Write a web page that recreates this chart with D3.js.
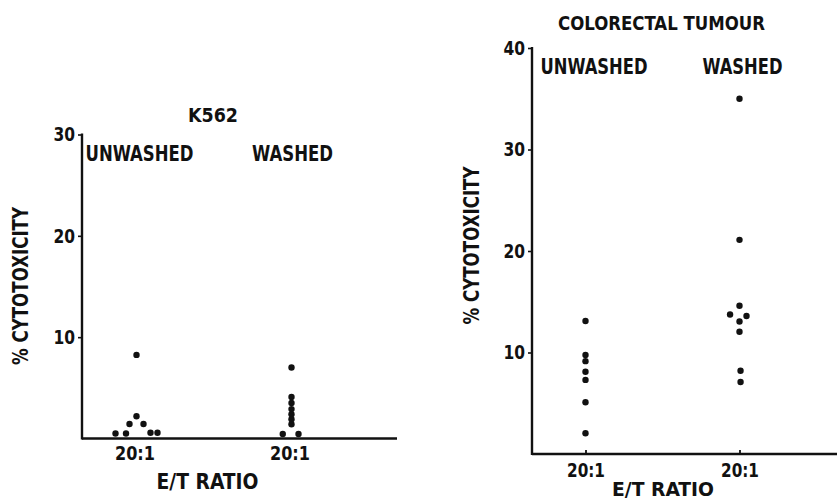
<!DOCTYPE html>
<html>
<head>
<meta charset="utf-8">
<script src="https://cdn.jsdelivr.net/npm/d3@7"></script>
<style>
    body { margin: 0; background: #fff; }
    svg text {
        font-family: "DejaVu Sans Condensed", "Liberation Sans", sans-serif;
        font-weight: bold;
        fill: #111;
    }
</style>
</head>
<body>
<svg id="chart" width="837" height="501"></svg>
<script>
// categories and tick labels
const categories = ["UNWASHED", "WASHED"];
const ratioTicks = ["20:1", "20:1"];

// K562 panel, % cytotoxicity per donor
const k562Unwashed = [8.25, 2.2, 1.43, 1.43, 0.5, 0.5, 0.57, 0.57];
const k562UnwashedSlot = [0, 0, -2, 2, -6, -3, 4, 6];
const k562Washed = [7.0, 4.1, 3.5, 2.9, 2.4, 1.9, 1.4, 0.45, 0.45];
const k562WashedSlot = [0, 0, 0, 0, 0, 0, 0, -2.5, 2];

// colorectal tumour panel
const crcUnwashed = [13.1, 9.75, 9.15, 8.1, 7.3, 5.1, 2.05];
const crcUnwashedSlot = [0, 0, 0, 0, 0, 0, 0];
const crcWashed = [35.0, 21.1, 14.6, 13.75, 13.6, 13.05, 12.05, 8.2, 7.1];
const crcWashedSlot = [0, 0, 0, -2.7, 2, 0, 0, 0.3, 0.3];

const svg = d3.select("#chart");

// squeeze text to the condensed width of the typeset original
function squeeze(sel, w) {
    sel.attr("textLength", w).attr("lengthAdjust", "spacingAndGlyphs");
}

function drawPanel(p) {
    const g = svg.append("g");

    const x = d3.scalePoint().domain(categories).range(p.catRange);
    const y = d3.scaleLinear().domain([0, p.yMax]).range([p.base, p.top]);
    const slot = d3.scaleLinear().domain([0, 1]).range([0, 3.5]);

    // axis lines
    g.append("line")
        .attr("x1", p.axisX).attr("x2", p.axisX)
        .attr("y1", y(p.yMax) - 1).attr("y2", p.base + 1)
        .attr("stroke", "#111").attr("stroke-width", 2.4);
    g.append("line")
        .attr("x1", p.axisX).attr("x2", p.xEnd)
        .attr("y1", p.base).attr("y2", p.base)
        .attr("stroke", "#111").attr("stroke-width", 2.4);

    // y ticks
    const yAxis = g.append("g")
        .attr("transform", `translate(${p.axisX},0)`)
        .call(d3.axisLeft(y).tickValues(p.yTicks).tickSize(4).tickPadding(3));
    yAxis.select(".domain").remove();
    yAxis.selectAll("line").attr("stroke", "#111").attr("stroke-width", 1.6);
    yAxis.selectAll("text")
        .style("font-size", "20px").attr("fill", "#111")
        .each(function () {
            squeeze(d3.select(this), this.getComputedTextLength() * 0.86);
        });

    // x ticks
    const xAxis = g.append("g")
        .attr("transform", `translate(0,${p.base})`)
        .call(d3.axisBottom(x).tickSize(p.xTickSize).tickPadding(p.xTickPad)
            .tickFormat((d, i) => ratioTicks[i]));
    xAxis.select(".domain").remove();
    xAxis.selectAll("line").attr("stroke", "#111").attr("stroke-width", 1.8);
    xAxis.selectAll("text").style("font-size", "20px").attr("fill", "#111")
        .attr("dx", p.xTickDx)
        .call(squeeze, p.xTickW);

    // category labels
    categories.forEach((c, i) => {
        g.append("text")
            .attr("x", x(c) + p.labelDx[i])
            .attr("y", p.labelY)
            .attr("text-anchor", "middle")
            .style("font-size", "21px")
            .text(c)
            .call(squeeze, p.labelW[i]);
    });

    // dots
    p.series.forEach((s, i) => {
        g.selectAll(null)
            .data(s.values)
            .enter()
            .append("circle")
            .attr("cx", (d, j) => x(categories[i]) + slot(s.slots[j]))
            .attr("cy", (d) => y(d))
            .attr("r", 3.2)
            .attr("fill", "#111");
    });

    // titles
    g.append("text")
        .attr("x", p.titleX).attr("y", p.titleY)
        .attr("text-anchor", "middle")
        .style("font-size", "20px")
        .text(p.title)
        .call(squeeze, p.titleW);

    g.append("text")
        .attr("transform", `translate(${p.yTitleX},${p.yTitleY}) rotate(-90)`)
        .attr("text-anchor", "middle")
        .style("font-size", "21px")
        .text("% CYTOTOXICITY")
        .call(squeeze, 158);

    g.append("text")
        .attr("x", p.xTitleX).attr("y", p.xTitleY)
        .attr("text-anchor", "middle")
        .style("font-size", p.xTitleSize)
        .text("E/T RATIO")
        .call(squeeze, 102);
}

drawPanel({
    catRange: [136.5, 291.5], axisX: 82, xEnd: 397,
    base: 438.5, top: 134.5, yMax: 30, yTicks: [10, 20, 30],
    xTickSize: 0, xTickPad: 7, xTickDx: -2, xTickW: 40,
    labelDx: [3, 1], labelY: 161, labelW: [108, 81],
    title: "K562", titleX: 213, titleY: 121.5, titleW: 50,
    yTitleX: 28, yTitleY: 286,
    xTitleX: 207.5, xTitleY: 489, xTitleSize: "21px",
    series: [
        { values: k562Unwashed, slots: k562UnwashedSlot },
        { values: k562Washed, slots: k562WashedSlot }
    ]
});

drawPanel({
    catRange: [585.5, 739.5], axisX: 532, xEnd: 837,
    base: 454, top: 48, yMax: 40, yTicks: [10, 20, 30, 40],
    xTickSize: -4, xTickPad: 9, xTickDx: 0, xTickW: 38,
    labelDx: [8.5, 3], labelY: 73.5, labelW: [107, 80],
    title: "COLORECTAL TUMOUR", titleX: 661.5, titleY: 30, titleW: 207,
    yTitleX: 479, yTitleY: 245.5,
    xTitleX: 663, xTitleY: 496, xTitleSize: "19px",
    series: [
        { values: crcUnwashed, slots: crcUnwashedSlot },
        { values: crcWashed, slots: crcWashedSlot }
    ]
});
</script>
</body>
</html>
